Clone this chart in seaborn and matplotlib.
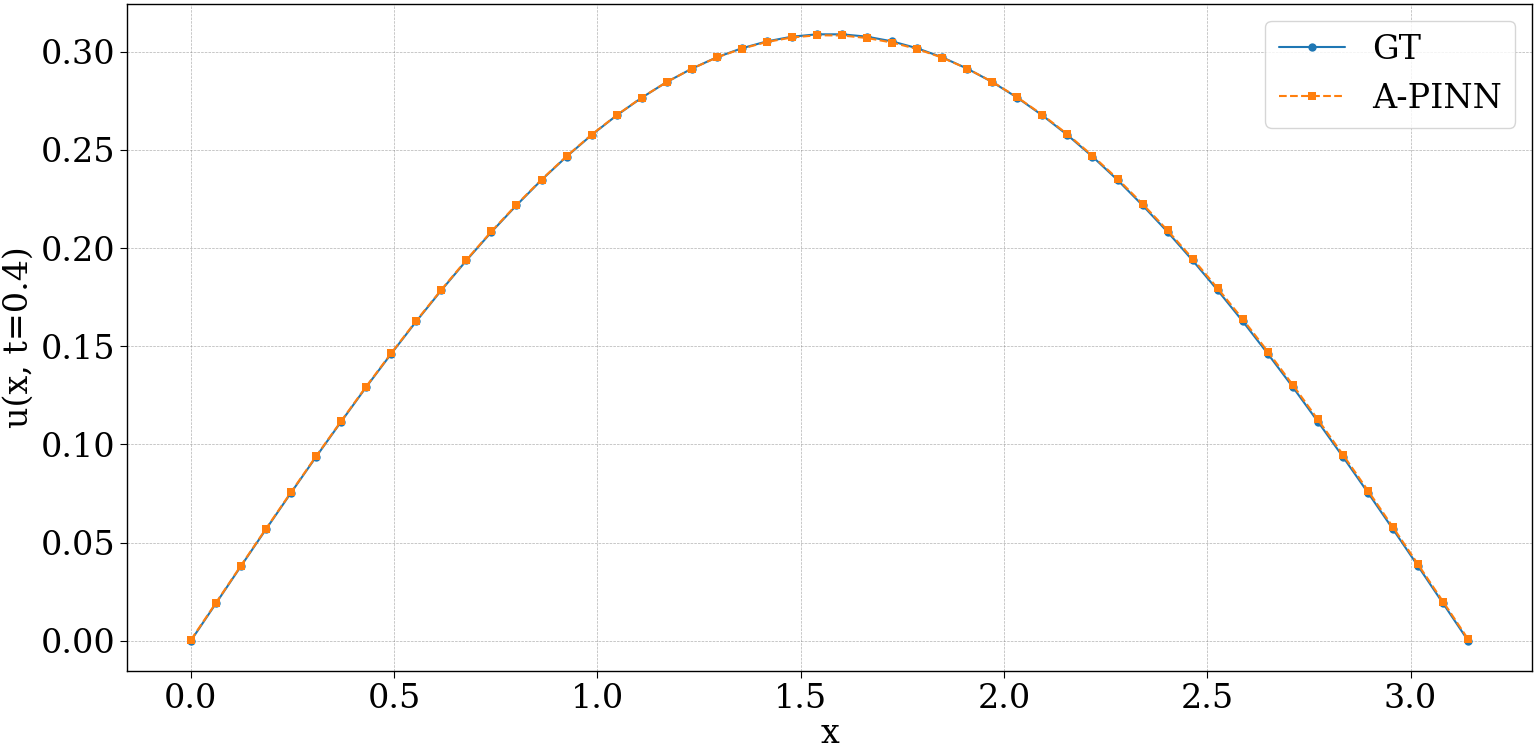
import numpy as np
import pandas as pd
import matplotlib
matplotlib.use('Agg')
import matplotlib.pyplot as plt
import seaborn as sns

# data (x in [0, pi], 52 samples)
x_vals = [0.0000, 0.0616, 0.1232, 0.1848, 0.2464, 0.3080, 0.3696, 0.4312, 0.4928, 0.5544,
          0.6160, 0.6776, 0.7392, 0.8008, 0.8624, 0.9240, 0.9856, 1.0472, 1.1088, 1.1704,
          1.2320, 1.2936, 1.3552, 1.4168, 1.4784, 1.5400, 1.6016, 1.6632, 1.7248, 1.7864,
          1.8480, 1.9096, 1.9712, 2.0328, 2.0944, 2.1560, 2.2176, 2.2792, 2.3408, 2.4024,
          2.4640, 2.5256, 2.5872, 2.6488, 2.7104, 2.7720, 2.8336, 2.8952, 2.9568, 3.0184,
          3.0800, 3.1416]

gt_vals = [0.0000, 0.0190, 0.0380, 0.0568, 0.0754, 0.0937, 0.1116, 0.1292, 0.1462, 0.1627,
           0.1785, 0.1937, 0.2082, 0.2218, 0.2347, 0.2466, 0.2576, 0.2676, 0.2766, 0.2846,
           0.2914, 0.2972, 0.3018, 0.3053, 0.3077, 0.3089, 0.3089, 0.3077, 0.3053, 0.3018,
           0.2972, 0.2914, 0.2846, 0.2766, 0.2676, 0.2576, 0.2466, 0.2347, 0.2218, 0.2082,
           0.1937, 0.1785, 0.1627, 0.1462, 0.1292, 0.1116, 0.0937, 0.0754, 0.0568, 0.0380,
           0.0190, 0.0000]

apinn_vals = [0.0004, 0.0193, 0.0383, 0.0571, 0.0757, 0.0940, 0.1119, 0.1295, 0.1465, 0.1630,
              0.1788, 0.1940, 0.2085, 0.2221, 0.2349, 0.2468, 0.2578, 0.2677, 0.2767, 0.2846,
              0.2914, 0.2971, 0.3016, 0.3050, 0.3073, 0.3084, 0.3083, 0.3070, 0.3047, 0.3014,
              0.2970, 0.2914, 0.2847, 0.2768, 0.2679, 0.2580, 0.2471, 0.2353, 0.2225, 0.2090,
              0.1946, 0.1795, 0.1638, 0.1473, 0.1303, 0.1127, 0.0948, 0.0765, 0.0578, 0.0389,
              0.0199, 0.0008]

df = pd.DataFrame({'x': x_vals, 'GT': gt_vals, 'A-PINN': apinn_vals})

sns.set_style('white')
plt.rcParams['font.family'] = ['DejaVu Serif']
plt.rcParams['text.color'] = 'black'
plt.rcParams['axes.labelcolor'] = 'black'
plt.rcParams['xtick.color'] = 'black'
plt.rcParams['ytick.color'] = 'black'

fig, ax = plt.subplots(figsize=(15.36, 7.54), dpi=100)
fig.subplots_adjust(left=0.0827, right=0.9974, top=0.9947, bottom=0.110)

sns.lineplot(data=df, x='x', y='GT', ax=ax, color='#1f77b4', marker='o',
             markersize=6, markeredgewidth=0, linewidth=1.5, label='GT')
sns.lineplot(data=df, x='x', y='A-PINN', ax=ax, color='#ff7f0e', marker='s',
             markersize=6, markeredgewidth=0, linewidth=1.5, linestyle='--', label='A-PINN')

ax.set_xlabel('x', fontsize=24, labelpad=2)
ax.set_ylabel('u(x, t=0.4)', fontsize=24)
ax.tick_params(labelsize=24, length=5, direction='out', left=True, bottom=True)
ax.set_xticks([0.0, 0.5, 1.0, 1.5, 2.0, 2.5, 3.0])
ax.set_yticks([0.0, 0.05, 0.10, 0.15, 0.20, 0.25, 0.30])
ax.yaxis.set_major_formatter(matplotlib.ticker.FormatStrFormatter('%.2f'))
ax.xaxis.set_major_formatter(matplotlib.ticker.FormatStrFormatter('%.1f'))
ax.grid(True, linestyle='--', linewidth=0.5, color='gray', alpha=0.6)
for s in ax.spines.values():
    s.set_color('black')
    s.set_linewidth(1.0)
ax.legend(fontsize=24, loc='upper right')

plt.savefig('out.png', dpi=100)
